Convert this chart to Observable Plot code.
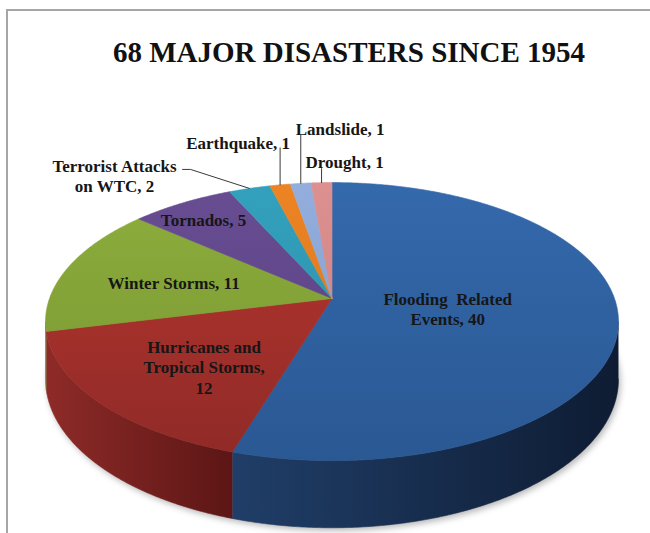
<!DOCTYPE html>
<html>
<head>
<meta charset="utf-8">
<script src="https://cdn.jsdelivr.net/npm/d3@7"></script>
<script src="https://cdn.jsdelivr.net/npm/@observablehq/plot@0.6"></script>
<style>
  html, body { margin: 0; padding: 0; background: #fff; }
  #page { position: relative; width: 650px; height: 533px; overflow: hidden; }
  #frame { position: absolute; left: 6px; top: 9px; width: 700px; height: 600px;
           border-left: 2px solid #a6a6a6; border-top: 2px solid #a6a6a6; }
  #title { position: relative; height: 100px; box-sizing: border-box; padding-top: 36px; padding-left: 48px;
           text-align: center; white-space: nowrap; color: #111;
           font: bold 29px/32px "Liberation Serif", "Times New Roman", serif; }
  #chart svg { display: block; }
</style>
</head>
<body>
<div id="page">
  <div id="frame"></div>
  <div id="title">68 MAJOR DISASTERS SINCE 1954</div>
  <div id="chart"></div>
</div>
<script>
// Disaster declarations by type
const categories = [
  "Flooding Related Events",
  "Hurricanes and Tropical Storms",
  "Winter Storms",
  "Tornados",
  "Terrorist Attacks on WTC",
  "Earthquake",
  "Landslide",
  "Drought"
];
const counts = [40, 12, 11, 5, 2, 1, 1, 1];

// Label text per slice; {n} is replaced by the count
const labelTemplates = [
  "Flooding\u00a0 Related\nEvents, {n}",
  "Hurricanes and\nTropical Storms,\n{n}",
  "Winter Storms, {n}",
  "Tornados, {n}",
  "Terrorist Attacks\non WTC, {n}",
  "Earthquake, {n}",
  "Landslide, {n}",
  "Drought, {n}"
];

// Top-face shading (far edge -> near edge) and side-wall shading (left -> right)
const topShades = [
  ["#3469ac", "#2a5893"],
  ["#b8362f", "#8f2a27"],
  ["#8fae3e", "#75942f"],
  ["#684d92", "#573f80"],
  ["#33a1bd", "#2b8ca6"],
  ["#ec8424", "#d7731a"],
  ["#93aedc", "#809ccb"],
  ["#dc908f", "#c97c7b"]
];
const sideShades = [
  ["#203e68", "#0e1c33"],
  ["#8e2b28", "#5c1615"],
  ["#6a8a28", "#5d7b21"],
  ["#4a3870", "#3e2e5e"],
  ["#23788e", "#1d6678"],
  ["#b8631a", "#a05614"],
  ["#6d86b0", "#5e779f"],
  ["#a86c6b", "#965e5d"]
];

// ---- layout of the tilted pie (page pixel units) ----
const pageTop = 100;            // svg starts below the title block
const W = 650, H = 433;
const cx = 331.5, cy = 298;     // centre of the top face
const rx = 282.5, ry = 135.2;   // radii of the top face
const persp = 0.166;            // near side appears larger than the far side
const depth = 56;               // thickness of the pie

// inside-label placement: fraction of radius along the mid-angle, plus nudge
const insidePlacement = {
  0: {r: 0.41, dx: 0, dy: 1.5},
  1: {r: 0.58, dx: 0, dy: 11},
  2: {r: 0.59, dx: 0, dy: 2},
  3: {r: 0.84, dx: 0, dy: 3}
};
// outside labels: leader path and text offset relative to the rim point
const callouts = {
  4: {path: [[-59, -19], [-67, -19]], text: [-135, -13], anchor: "middle"},
  5: {path: [[0, -37]], text: [10, -42], anchor: "end"},
  6: {path: [[0, -48]], text: [-5, -55], anchor: "start"},
  7: {path: [[0, -14]], text: [-16, -21], anchor: "start"}
};

function rim(a, r = 1) {
  const u = r * Math.sin(a), v = -r * Math.cos(a), d = 1 - persp * v;
  return {x: cx + rx * u / d, y: cy + ry * v / d, d};
}

const arcs = d3.pie().sort(null).value(d => d)(counts);
const step = Math.PI / 360;
const topFill = i => `url(#top-${i})`;
const sideFill = i => `url(#side-${i})`;

// top faces
const topRows = [];
arcs.forEach((arc, i) => {
  topRows.push({slice: i, x: cx, y: cy, fill: topFill(i)});
  for (let a = arc.startAngle; a < arc.endAngle; a += step) {
    const p = rim(a);
    topRows.push({slice: i, x: p.x, y: p.y, fill: topFill(i)});
  }
  const e = rim(arc.endAngle);
  topRows.push({slice: i, x: e.x, y: e.y, fill: topFill(i)});
  topRows.push({slice: i, x: cx, y: cy, fill: topFill(i)});
});

// visible side walls (between the two silhouette angles)
const thetaL = Math.acos(-persp), thetaR = 2 * Math.PI - thetaL;
const sideRows = [];
const sideExtent = {};
arcs.forEach((arc, i) => {
  const lo = Math.max(arc.startAngle, thetaL), hi = Math.min(arc.endAngle, thetaR);
  if (hi <= lo) return;
  const angles = [];
  for (let a = lo; a < hi; a += step) angles.push(a);
  angles.push(hi);
  const ring = angles.map(a => rim(a));
  const pts = [
    ...ring.map(p => ({x: p.x, y: p.y})),
    ...ring.slice().reverse().map(p => ({x: p.x, y: p.y + depth / p.d}))
  ];
  pts.forEach(p => sideRows.push({slice: i, x: p.x, y: p.y, fill: sideFill(i)}));
  sideExtent[i] = d3.extent(pts, p => p.x);
});

// soft shadow beneath the base
const shadowRows = [];
for (let a = 0; a <= 2 * Math.PI + 1e-9; a += step) {
  const p = rim(a);
  shadowRows.push({x: p.x + 2, y: p.y + depth / p.d + 3});
}

// labels and leader lines
const labelRows = [];
const leaderRows = [];
arcs.forEach((arc, i) => {
  const mid = (arc.startAngle + arc.endAngle) / 2;
  const text = labelTemplates[i].replace("{n}", counts[i]);
  if (insidePlacement[i]) {
    const pl = insidePlacement[i];
    const p = rim(mid, pl.r);
    labelRows.push({x: p.x + pl.dx, y: p.y + pl.dy, text, anchor: "middle"});
  } else {
    const c = callouts[i];
    const p = rim(mid);
    leaderRows.push({slice: i, x: p.x, y: p.y});
    c.path.forEach(([dx, dy]) => leaderRows.push({slice: i, x: p.x + dx, y: p.y + dy}));
    labelRows.push({x: p.x + c.text[0], y: p.y + c.text[1], text, anchor: c.anchor});
  }
});

const textStyle = {
  fontFamily: "'Liberation Serif', 'Times New Roman', serif",
  fontWeight: "bold",
  fontSize: 17,
  lineHeight: 1.2,
  lineAnchor: "middle",
  fill: "#161616"
};

const chart = Plot.plot({
  width: W,
  height: H,
  margin: 0,
  x: {domain: [0, W], range: [0, W], axis: null},
  y: {domain: [pageTop, pageTop + H], range: [0, H], axis: null},
  color: {type: "identity"},
  marks: [
    Plot.line(shadowRows, {x: "x", y: "y", fill: "#000", fillOpacity: 0.28, stroke: "none"}),
    Plot.line(sideRows, {x: "x", y: "y", z: "slice", fill: "fill", stroke: "fill", strokeWidth: 0.6}),
    Plot.line(topRows, {x: "x", y: "y", z: "slice", fill: "fill", stroke: "fill", strokeWidth: 0.6}),
    Plot.line(leaderRows, {x: "x", y: "y", z: "slice", stroke: "#3a3a3a", strokeWidth: 1}),
    Plot.text(labelRows.filter(d => d.anchor === "middle"), {x: "x", y: "y", text: "text", textAnchor: "middle", ...textStyle}),
    Plot.text(labelRows.filter(d => d.anchor === "start"), {x: "x", y: "y", text: "text", textAnchor: "start", ...textStyle}),
    Plot.text(labelRows.filter(d => d.anchor === "end"), {x: "x", y: "y", text: "text", textAnchor: "end", ...textStyle})
  ]
});

// gradients used by the faces
const xs = chart.scale("x"), ys = chart.scale("y");
const defs = d3.select(chart).insert("defs", ":first-child");
topShades.forEach(([c0, c1], i) => {
  const g = defs.append("linearGradient").attr("id", `top-${i}`).attr("gradientUnits", "userSpaceOnUse")
    .attr("x1", 0).attr("x2", 0).attr("y1", ys.apply(cy - ry / (1 + persp))).attr("y2", ys.apply(cy + ry / (1 - persp)));
  g.append("stop").attr("offset", 0).attr("stop-color", c0);
  g.append("stop").attr("offset", 1).attr("stop-color", c1);
});
sideShades.forEach(([c0, c1], i) => {
  const [x0, x1] = sideExtent[i] || [0, W];
  const g = defs.append("linearGradient").attr("id", `side-${i}`).attr("gradientUnits", "userSpaceOnUse")
    .attr("x1", xs.apply(x0)).attr("x2", xs.apply(x1)).attr("y1", 0).attr("y2", 0);
  g.append("stop").attr("offset", 0).attr("stop-color", c0);
  g.append("stop").attr("offset", 1).attr("stop-color", c1);
});
// the first line group is the base shadow
d3.select(chart).select('g[aria-label="line"]').style("filter", "blur(3px)");

document.getElementById("chart").appendChild(chart);
</script>
</body>
</html>
